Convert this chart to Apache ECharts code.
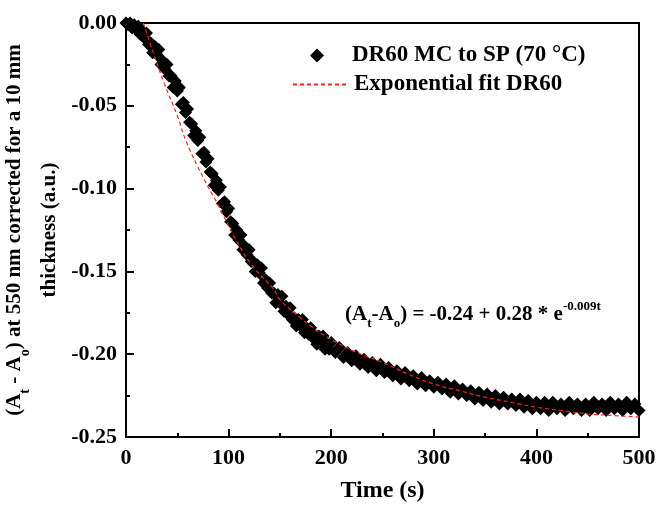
<!DOCTYPE html>
<html>
<head>
<meta charset="utf-8">
<title>DR60 MC to SP</title>
<script src="https://cdn.jsdelivr.net/npm/echarts@6/dist/echarts.min.js"></script>
</head>
<body style="margin:0px">
<div id="main" style="width:659px;height:510px;"></div>
<script type="text/javascript">
// measured points: every 2 s up to 200 s, every 4 s after
var timeS = [0, 2, 4, 6, 8, 10, 12, 14, 16, 18, 20, 22, 24, 26, 28, 30, 32, 34, 36, 38,
    40, 42, 44, 46, 48, 50, 52, 54, 56, 58, 60, 62, 64, 66, 68, 70, 72, 74, 76, 78,
    80, 82, 84, 86, 88, 90, 92, 94, 96, 98, 100, 102, 104, 106, 108, 110, 112, 114, 116, 118,
    120, 122, 124, 126, 128, 130, 132, 134, 136, 138, 140, 142, 144, 146, 148, 150, 152, 154, 156, 158,
    160, 162, 164, 166, 168, 170, 172, 174, 176, 178, 180, 182, 184, 186, 188, 190, 192, 194, 196, 198, 200,
    204, 208, 212, 216, 220, 224, 228, 232, 236,
    240, 244, 248, 252, 256, 260, 264, 268, 272, 276, 280, 284, 288, 292, 296, 300, 304, 308, 312, 316,
    320, 324, 328, 332, 336, 340, 344, 348, 352, 356, 360, 364, 368, 372, 376, 380, 384, 388, 392, 396,
    400, 404, 408, 412, 416, 420, 424, 428, 432, 436, 440, 444, 448, 452, 456, 460, 464, 468, 472, 476,
    480, 484, 488, 492, 496, 500];
var signal = [0.000, -0.001, 0.000, -0.003, -0.001, -0.004, -0.002, -0.007, -0.005, -0.009,
    -0.006, -0.013, -0.012, -0.018, -0.014, -0.019, -0.016, -0.025, -0.023, -0.028,
    -0.025, -0.032, -0.032, -0.039, -0.035, -0.041, -0.039, -0.049, -0.048, -0.054,
    -0.052, -0.060, -0.061, -0.068, -0.065, -0.071, -0.069, -0.079, -0.078, -0.084,
    -0.082, -0.090, -0.091, -0.098, -0.095, -0.101, -0.099, -0.109, -0.108, -0.114,
    -0.112, -0.120, -0.121, -0.128, -0.125, -0.131, -0.128, -0.137, -0.135, -0.140,
    -0.137, -0.144, -0.144, -0.150, -0.146, -0.151, -0.148, -0.157, -0.155, -0.160,
    -0.157, -0.163, -0.163, -0.169, -0.164, -0.169, -0.165, -0.174, -0.171, -0.176,
    -0.172, -0.179, -0.178, -0.183, -0.179, -0.183, -0.179, -0.187, -0.184, -0.188,
    -0.184, -0.190, -0.189, -0.194, -0.189, -0.193, -0.189, -0.197, -0.194, -0.197, -0.193,
    -0.199, -0.196, -0.202, -0.199, -0.204, -0.201, -0.206, -0.203, -0.208,
    -0.205, -0.210, -0.206, -0.211, -0.208, -0.213, -0.210, -0.215, -0.211, -0.216,
    -0.213, -0.218, -0.214, -0.219, -0.216, -0.220, -0.217, -0.221, -0.218, -0.223,
    -0.219, -0.224, -0.221, -0.225, -0.222, -0.227, -0.223, -0.228, -0.224, -0.229,
    -0.225, -0.230, -0.226, -0.230, -0.227, -0.231, -0.227, -0.232, -0.228, -0.233,
    -0.229, -0.233, -0.229, -0.234, -0.229, -0.233, -0.230, -0.234, -0.229, -0.233,
    -0.230, -0.234, -0.230, -0.234, -0.229, -0.233, -0.230, -0.234, -0.229, -0.233,
    -0.230, -0.234, -0.229, -0.233, -0.230, -0.234];

// exponential fit
var fitTime = [17, 25, 37, 50, 59, 75, 89, 109, 125, 143, 150, 170, 180, 200, 225, 250, 275, 300, 325, 350, 375, 400, 425, 450, 475, 500];
var fitValue = [0.000, -0.015, -0.036, -0.056, -0.072, -0.093, -0.109, -0.133, -0.148, -0.160, -0.167, -0.178, -0.183, -0.191, -0.199, -0.205, -0.212, -0.218, -0.222, -0.226, -0.229, -0.232, -0.234, -0.236, -0.237, -0.238];

var xTicks = [0, 500, 100];
var yTicks = [-0.25, 0, 0.05];

var serif = 'Liberation Serif';
var mainDom = document.querySelector('#main');
var myChart = echarts.init(mainDom);

var points = timeS.map(function (t, i) { return [t, signal[i]]; });
var fit = fitTime.map(function (t, i) { return [t, fitValue[i]]; });

var option = {
    animation: false,
    backgroundColor: '#fff',
    grid: { left: 126, top: 23, right: 20, bottom: 73, show: true, borderColor: '#000', borderWidth: 2, outerBoundsMode: 'none' },
    legend: [{
        data: ['DR60 MC to SP (70 °C)'],
        left: 305, top: 39,
        itemWidth: 14, itemHeight: 14,
        formatter: '{a|{name}}',
        textStyle: { fontFamily: serif, fontWeight: 'bold', fontSize: 23, color: '#000',
            rich: { a: { fontFamily: serif, fontWeight: 'bold', fontSize: 23, color: '#000', padding: [0, 0, 0, 23] } } }
    }, {
        data: ['Exponential fit DR60'],
        left: 287, top: 68,
        itemWidth: 56, itemHeight: 2,
        itemStyle: { opacity: 0 },
        textStyle: { fontFamily: serif, fontWeight: 'bold', fontSize: 23, color: '#000' }
    }],
    xAxis: {
        type: 'value', min: xTicks[0], max: xTicks[1], interval: xTicks[2],
        name: 'Time (s)', nameLocation: 'middle', nameGap: 42,
        nameTextStyle: { fontFamily: serif, fontWeight: 'bold', fontSize: 24, color: '#000' },
        axisLine: { show: true, onZero: false, lineStyle: { color: '#000', width: 2 } },
        axisTick: { show: true, inside: true, length: 8, lineStyle: { color: '#000', width: 2 } },
        minorTick: { show: true, splitNumber: 2, length: 4, lineStyle: { color: '#000', width: 2 } },
        splitLine: { show: false },
        axisLabel: { margin: 10, fontFamily: serif, fontWeight: 'bold', fontSize: 22, color: '#000' }
    },
    yAxis: {
        type: 'value', min: yTicks[0], max: yTicks[1], interval: yTicks[2],
        name: '{p|(A}{s|t}{p| - A}{s|o}{p|) at 550 nm corrected for a 10 mm}\n{p|thickness (a.u.)}',
        nameLocation: 'middle', nameRotate: 90, nameGap: 52,
        nameTextStyle: {
            fontFamily: serif, fontWeight: 'bold', fontSize: 21, color: '#000',
            rich: {
                p: { fontFamily: serif, fontWeight: 'bold', fontSize: 21, lineHeight: 35, color: '#000' },
                s: { fontFamily: serif, fontWeight: 'bold', fontSize: 14, lineHeight: 14, verticalAlign: 'bottom', color: '#000' }
            }
        },
        axisLine: { show: true, onZero: false, lineStyle: { color: '#000', width: 2 } },
        axisTick: { show: true, inside: true, length: 8, lineStyle: { color: '#000', width: 2 } },
        minorTick: { show: true, splitNumber: 2, length: 4, lineStyle: { color: '#000', width: 2 } },
        splitLine: { show: false },
        axisLabel: { margin: 9, fontFamily: serif, fontWeight: 'bold', fontSize: 22, color: '#000',
            formatter: function (v) { return v.toFixed(2); } }
    },
    graphic: [{
        type: 'text', left: 345, top: 300,
        style: {
            text: '{p|(A}{s|t}{p|-A}{s|o}{p|) = -0.24 + 0.28 * e}{u|-0.009t}',
            rich: {
                p: { fontFamily: serif, fontWeight: 'bold', fontSize: 21, lineHeight: 30, fill: '#000' },
                s: { fontFamily: serif, fontWeight: 'bold', fontSize: 13, lineHeight: 14, verticalAlign: 'bottom', fill: '#000' },
                u: { fontFamily: serif, fontWeight: 'bold', fontSize: 13, lineHeight: 14, verticalAlign: 'top', fill: '#000' }
            }
        }
    }],
    series: [{
        name: 'DR60 MC to SP (70 °C)',
        type: 'scatter',
        symbol: 'diamond',
        symbolSize: 13,
        itemStyle: { color: '#000', opacity: 1 },
        data: points,
        z: 2
    }, {
        name: 'Exponential fit DR60',
        type: 'line',
        smooth: true,
        showSymbol: false,
        symbol: 'none',
        lineStyle: { color: '#ff2020', width: 1.2, type: [4, 3] },
        itemStyle: { color: '#ff2020' },
        data: fit,
        z: 3
    }]
};
myChart.setOption(option);
</script>
</body>
</html>
